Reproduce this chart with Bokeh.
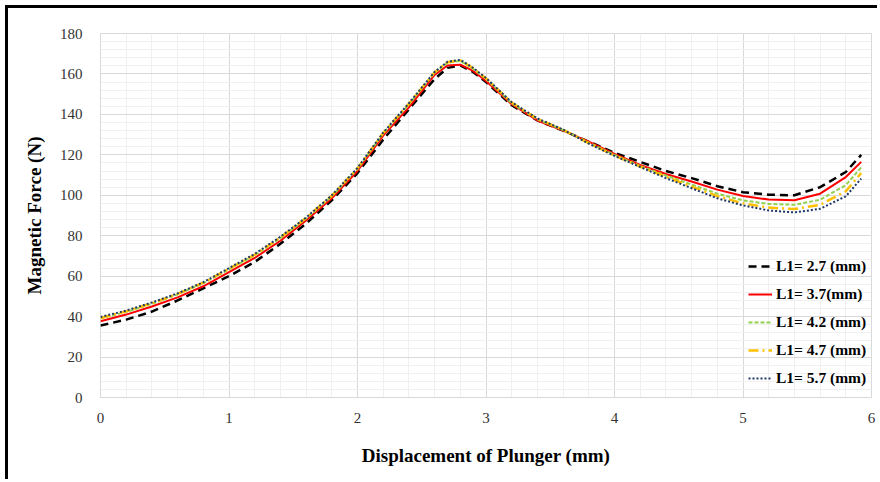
from bokeh.plotting import figure
from bokeh.models import SingleIntervalTicker, Legend, LegendItem
from bokeh.embed import file_html
from bokeh.resources import INLINE

x = [0, 0.2, 0.4, 0.6, 0.8, 1.0, 1.2, 1.4, 1.6, 1.8, 2.0, 2.2, 2.4, 2.6, 2.7, 2.8, 2.9, 3.0,
     3.2, 3.4, 3.6, 3.8, 4.0, 4.2, 4.4, 4.6, 4.8, 5.0, 5.2, 5.4, 5.6, 5.8, 5.92]

f_27 = [35.6, 38.5, 42.5, 48, 54, 60, 67, 76, 86, 97.5, 111, 127.5, 142.5, 157.5, 163, 164.2, 161, 156,
        144.5, 137, 132, 126.5, 121, 116.5, 112, 108.5, 104.5, 101.5, 100.3, 100, 104, 111.5, 120]
f_37 = [37.7, 41, 45, 49.5, 55, 62, 69, 77.5, 87.5, 98.5, 112, 129.5, 143.5, 159.5, 164.2, 164.6, 161.5, 156.5,
        145, 137, 132, 126.5, 120.5, 115, 110.5, 106.8, 102.8, 99.6, 97.9, 97.5, 100.8, 109, 116.5]
f_42 = [39, 42.3, 46.3, 51, 56.5, 63.3, 70.3, 78.8, 88.5, 99.5, 113, 130.5, 145, 160.5, 165.5, 166.5, 162.5, 157.5,
        145.5, 137.5, 132.3, 126, 120, 114.5, 109.8, 105.3, 100.8, 97.5, 95.7, 95.3, 97.8, 105, 113.8]
f_47 = [39.3, 42.6, 46.6, 51.2, 56.8, 63.6, 70.6, 79.1, 88.8, 99.8, 113.3, 130.8, 145.3, 160.8, 165.8, 166.7, 162.8, 157.8,
        145.8, 137.8, 132.4, 125.8, 119.7, 114.2, 109.2, 104.3, 99.6, 96, 93.9, 93.2, 95.3, 102, 111]
f_57 = [39.8, 43, 47, 51.5, 57, 64, 71, 79.5, 89, 100, 113.5, 131, 145.5, 161, 166, 167, 163, 158,
        146, 138, 132.5, 125.5, 119.5, 114, 108.5, 103.5, 98.5, 95, 92.5, 91.5, 93.3, 99.5, 108.2]

labels = ["L1= 2.7 (mm)", "L1= 3.7(mm)", "L1= 4.2 (mm)", "L1= 4.7 (mm)", "L1= 5.7 (mm)"]
series = [f_27, f_37, f_42, f_47, f_57]
colors = ["#000000", "#ff0000", "#92d050", "#ffc000", "#1f3864"]
dashes = ["8 5", "solid", "4 2", "10 4 2 4", "2 2"]
widths = [2.5, 2, 2, 2.5, 2]

FONT = "Liberation Serif"

p = figure(width=872, height=474, output_backend="svg", toolbar_location=None,
           x_range=(0, 6), y_range=(0, 180),
           min_border_left=92, min_border_right=9, min_border_top=25, min_border_bottom=85,
           styles={"margin-left": "8px", "margin-top": "8px",
                   "box-shadow": "-3px -3px 0px 0px #000000"})

p.background_fill_color = "white"
p.border_fill_color = "white"
p.outline_line_color = "#d9d9d9"

p.xaxis.ticker = SingleIntervalTicker(interval=1, num_minor_ticks=5)
p.yaxis.ticker = SingleIntervalTicker(interval=20, num_minor_ticks=5)

p.xgrid.grid_line_color = "#d9d9d9"
p.ygrid.grid_line_color = "#d9d9d9"
p.xgrid.minor_grid_line_color = "#f0f0f0"
p.ygrid.minor_grid_line_color = "#f0f0f0"

for ax in (p.xaxis, p.yaxis):
    ax.axis_line_color = None
    ax.major_tick_line_color = None
    ax.minor_tick_line_color = None
    ax.major_label_text_font = FONT
    ax.major_label_text_font_size = "15px"
    ax.major_label_text_color = "#333333"
    ax.axis_label_text_font = FONT
    ax.axis_label_text_font_style = "bold"
    ax.axis_label_text_font_size = "19px"
    ax.axis_label_text_color = "#000000"

p.xaxis.axis_line_color = "#d9d9d9"
p.xaxis.major_label_standoff = 9
p.yaxis.major_label_standoff = 12
p.xaxis.axis_label = "Displacement of Plunger (mm)"
p.yaxis.axis_label = "Magnetic Force (N)"
p.xaxis.axis_label_standoff = 19
p.yaxis.axis_label_standoff = 12

items = []
for ys, c, d, w, lab in zip(series, colors, dashes, widths, labels):
    r = p.line(x, ys, line_color=c, line_dash=d, line_width=w)
    items.append(LegendItem(label=lab, renderers=[r]))

legend = Legend(items=items, location=(648, 9))
legend.background_fill_alpha = 0
legend.border_line_color = None
legend.padding = 0
legend.margin = 0
legend.spacing = 8
legend.label_height = 20
legend.glyph_height = 20
legend.glyph_width = 24
legend.label_standoff = 4
legend.label_text_font = FONT
legend.label_text_font_style = "bold"
legend.label_text_font_size = "15.5px"
legend.label_text_color = "#000000"
p.add_layout(legend, "center")

open("out.html", "w").write(file_html(p, INLINE))
